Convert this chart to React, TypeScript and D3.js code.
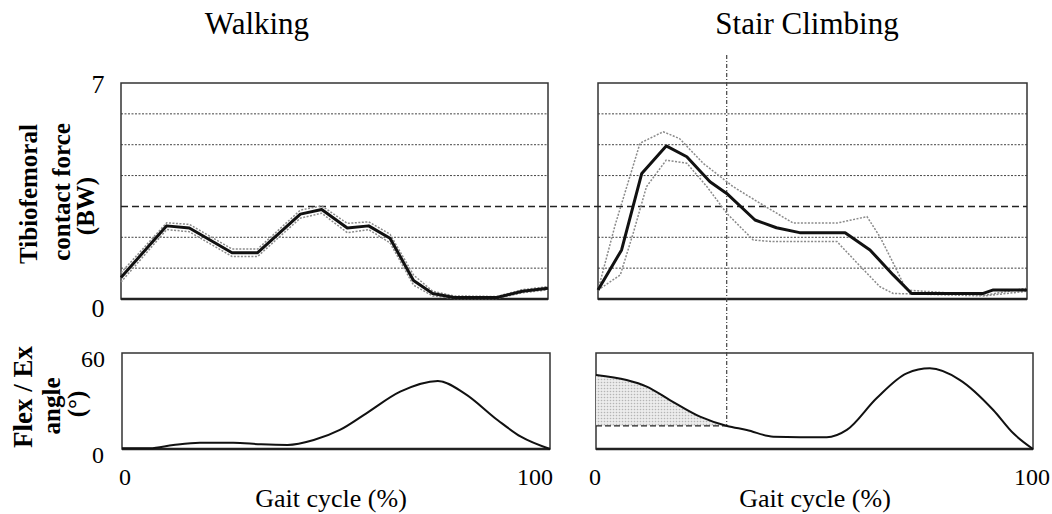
import React from 'react';
import * as d3 from 'd3';

// gait cycle (%) values
const walkForceX = [0, 10.7, 16, 26, 32, 42, 47, 53, 58, 63, 68.5, 73, 78, 88, 94, 100];
const walkForceMean = [0.7, 2.37, 2.3, 1.5, 1.5, 2.75, 2.9, 2.3, 2.37, 1.97, 0.6, 0.18, 0.05, 0.05, 0.25, 0.35];
const walkForceUpper = [0.85, 2.47, 2.42, 1.62, 1.62, 2.88, 3.02, 2.45, 2.5, 2.1, 0.78, 0.25, 0.1, 0.08, 0.3, 0.4];
const walkForceLower = [0.55, 2.25, 2.18, 1.38, 1.38, 2.62, 2.78, 2.15, 2.25, 1.82, 0.45, 0.1, 0.02, 0.02, 0.2, 0.3];

const stairForceX = [0, 5.5, 10.2, 15.9, 20.7, 26.1, 30, 36.6, 41.6, 47, 57.6, 63.4, 68.8, 73.1, 89.8, 92, 100];
const stairForceMean = [0.29, 1.59, 4.07, 4.96, 4.61, 3.8, 3.42, 2.56, 2.31, 2.15, 2.15, 1.59, 0.78, 0.18, 0.18, 0.29, 0.29];
const stairUpperX = [0, 4, 9.8, 15.2, 19, 24.5, 31.5, 37.8, 45.5, 55.7, 62.7, 65.7, 68.8, 71.9, 90, 100];
const stairUpper = [0.29, 2.4, 5.05, 5.42, 5.2, 4.4, 3.64, 3.1, 2.46, 2.46, 2.67, 2.02, 1.17, 0.29, 0.12, 0.35];
const stairLowerX = [0, 5.2, 8.2, 11.3, 15.9, 20.7, 25.4, 30, 36.2, 40.9, 55.7, 61.2, 65.7, 68.8, 90, 100];
const stairLower = [0.29, 0.78, 2.13, 3.64, 4.5, 4.4, 3.64, 2.78, 1.91, 1.86, 1.86, 1.05, 0.4, 0.18, 0.1, 0.25];

const walkAngleX = [0, 6.5, 12, 18.2, 26, 32.5, 38.7, 44.8, 50.9, 57.1, 65, 73.8, 80, 87.8, 93.2, 100];
const walkAngle = [0.4, 0.5, 2.5, 3.9, 3.9, 2.9, 2.5, 5.6, 11.9, 22.3, 35.8, 42.5, 34.8, 18, 7.7, 0];
const stairAngleX = [0, 7, 11.6, 16.9, 23.8, 30, 34.5, 40.6, 52.8, 57.4, 64.2, 71.1, 76.4, 83.3, 90.9, 95.5, 100];
const stairAngle = [46.25, 43.1, 39, 30.6, 20.2, 14.4, 11.9, 7.7, 7.3, 11.9, 31.7, 47.3, 50.4, 43.1, 24.4, 9.8, 0];

const forceGrid = [1, 2, 4, 5, 6];
const forceRef = 3;
const stairMarker = 30;
const gaitTicks = [0, 100];
const forceTicks = [0, 7];
const angleTicks = [0, 60];

const serif = '"Liberation Serif", "Times New Roman", serif';

const zip = (xs: number[], ys: number[]) => xs.map((x, i) => [x, ys[i]] as [number, number]);

export default function App() {
  const top = { y0: 83, y1: 299 };
  const bot = { y0: 353, y1: 449 };
  const xWalkTop = d3.scaleLinear().domain([0, 100]).range([121, 548]);
  const xStairTop = d3.scaleLinear().domain([0, 100]).range([598, 1027]);
  const xWalkBot = d3.scaleLinear().domain([0, 100]).range([122, 550]);
  const xStairBot = d3.scaleLinear().domain([0, 100]).range([596, 1033]);
  const yForce = d3.scaleLinear().domain([0, 7]).range([top.y1, top.y0]);
  const yAngle = d3.scaleLinear().domain([0, 60]).range([bot.y1, bot.y0]);

  const forceLine = (x: d3.ScaleLinear<number, number>) =>
    d3.line<[number, number]>().x(d => x(d[0])).y(d => yForce(d[1]));
  const angleLine = (x: d3.ScaleLinear<number, number>) =>
    d3.line<[number, number]>().x(d => x(d[0])).y(d => yAngle(d[1])).curve(d3.curveMonotoneX);

  const markerAngle = stairAngle[stairAngleX.indexOf(stairMarker)];
  const shadePts = zip(stairAngleX, stairAngle).filter(d => d[0] <= stairMarker);
  const shade = d3.area<[number, number]>()
    .x(d => xStairBot(d[0]))
    .y0(yAngle(markerAngle))
    .y1(d => yAngle(d[1]))
    .curve(d3.curveMonotoneX)(shadePts);

  const forcePanel = (x: d3.ScaleLinear<number, number>, key: string) => (
    <g key={key}>
      {forceGrid.map(v => (
        <line key={v} x1={x(0)} x2={x(100)} y1={yForce(v)} y2={yForce(v)}
          stroke="#444" strokeWidth={1} strokeDasharray="2,1.5" />
      ))}
      <rect x={x(0)} y={top.y0} width={x(100) - x(0)} height={top.y1 - top.y0}
        fill="none" stroke="#333" strokeWidth={1.5} />
      <line x1={x(0)} x2={x(100)} y1={top.y1} y2={top.y1} stroke="#222" strokeWidth={2.5} />
    </g>
  );

  const anglePanel = (x: d3.ScaleLinear<number, number>, key: string) => (
    <g key={key}>
      <rect x={x(0)} y={bot.y0} width={x(100) - x(0)} height={bot.y1 - bot.y0}
        fill="none" stroke="#333" strokeWidth={1.5} />
      <line x1={x(0)} x2={x(100)} y1={bot.y1} y2={bot.y1} stroke="#222" strokeWidth={2.5} />
    </g>
  );

  const band = { fill: 'none', stroke: '#8a8a8a', strokeWidth: 1.5, strokeDasharray: '2,1.5' };
  const mean = { fill: 'none', stroke: '#111', strokeWidth: 3, strokeLinejoin: 'round' as const };
  const curve = { fill: 'none', stroke: '#111', strokeWidth: 2 };

  return (
    <svg width={1052} height={514} style={{ position: 'absolute', left: 0, top: 0, background: '#fff' }}
      fontFamily={serif}>
      <defs>
        <pattern id="dots" width={3} height={3} patternUnits="userSpaceOnUse">
          <rect width={3} height={3} fill="#ececec" />
          <circle cx={1.5} cy={1.5} r={0.8} fill="#b5b5b5" />
        </pattern>
      </defs>

      <text x={257} y={34} fontSize={31} textAnchor="middle">Walking</text>
      <text x={807} y={34} fontSize={31} textAnchor="middle">Stair Climbing</text>

      {forcePanel(xWalkTop, 'fw')}
      {forcePanel(xStairTop, 'fs')}
      {anglePanel(xWalkBot, 'aw')}
      {anglePanel(xStairBot, 'as')}

      {/* reference lines */}
      <line x1={xWalkTop(0)} x2={xStairTop(100)} y1={yForce(forceRef)} y2={yForce(forceRef)}
        stroke="#222" strokeWidth={1.5} strokeDasharray="7,4" />
      <line x1={xStairTop(stairMarker)} x2={xStairTop(stairMarker)} y1={55} y2={yAngle(markerAngle)}
        stroke="#444" strokeWidth={1.2} strokeDasharray="4,2,1,2" />

      {/* walking force */}
      <path d={forceLine(xWalkTop)(zip(walkForceX, walkForceUpper)) ?? ''} {...band} />
      <path d={forceLine(xWalkTop)(zip(walkForceX, walkForceLower)) ?? ''} {...band} />
      <path d={forceLine(xWalkTop)(zip(walkForceX, walkForceMean)) ?? ''} {...mean} />

      {/* stair force */}
      <path d={forceLine(xStairTop)(zip(stairUpperX, stairUpper)) ?? ''} {...band} />
      <path d={forceLine(xStairTop)(zip(stairLowerX, stairLower)) ?? ''} {...band} />
      <path d={forceLine(xStairTop)(zip(stairForceX, stairForceMean)) ?? ''} {...mean} />

      {/* angles */}
      <path d={shade ?? ''} fill="url(#dots)" />
      <line x1={xStairBot(0)} x2={xStairBot(stairMarker)} y1={yAngle(markerAngle)} y2={yAngle(markerAngle)}
        stroke="#222" strokeWidth={1.3} strokeDasharray="6,3" />
      <path d={angleLine(xWalkBot)(zip(walkAngleX, walkAngle)) ?? ''} {...curve} />
      <path d={angleLine(xStairBot)(zip(stairAngleX, stairAngle)) ?? ''} {...curve} />

      {/* y tick labels */}
      {forceTicks.map(t => (
        <text key={'f' + t} x={98} y={yForce(t) + (t === 0 ? 18 : 10)} fontSize={26} textAnchor="middle">{t}</text>
      ))}
      {angleTicks.map(t => (
        <text key={'a' + t} x={t === 0 ? 98 : 93} y={yAngle(t) + 14} fontSize={24} textAnchor="middle">{t}</text>
      ))}

      {/* x tick labels */}
      {gaitTicks.map(t => (
        <text key={'w' + t} x={t === 0 ? xWalkBot(t) + 3 : xWalkBot(t) - 15} y={485} fontSize={24} textAnchor="middle">{t}</text>
      ))}
      {gaitTicks.map(t => (
        <text key={'s' + t} x={xStairBot(t) - 1} y={485} fontSize={24} textAnchor="middle">{t}</text>
      ))}
      <text x={331} y={507} fontSize={26} textAnchor="middle">Gait cycle (%)</text>
      <text x={815} y={507} fontSize={26} textAnchor="middle">Gait cycle (%)</text>

      {/* y titles */}
      <g fontWeight="bold" fontSize={25} textAnchor="middle">
        <text transform="translate(37,194) rotate(-90)">Tibiofemoral</text>
        <text transform="translate(70,192) rotate(-90)">contact force</text>
        <text transform="translate(94,206) rotate(-90)">(BW)</text>
        <text transform="translate(32,397) rotate(-90)" fontSize={27}>Flex / Ex</text>
        <text transform="translate(60,406) rotate(-90)">angle</text>
        <text transform="translate(85,404) rotate(-90)">(°)</text>
      </g>
    </svg>
  );
}
